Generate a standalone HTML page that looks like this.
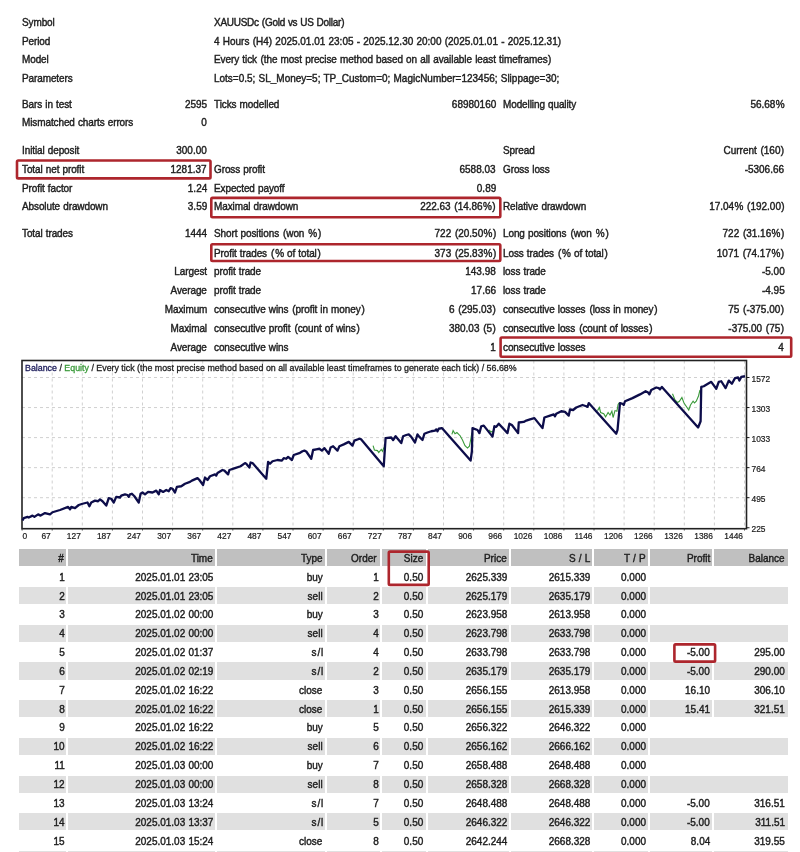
<!DOCTYPE html>
<html><head><meta charset="utf-8"><style>
html,body{margin:0;padding:0;background:#fff;width:800px;height:852px;overflow:hidden;position:relative}
.t{position:absolute;white-space:nowrap;transform:scaleX(0.96);word-spacing:0.5px;-webkit-text-stroke:0.42px currentColor;font-family:"Liberation Sans",sans-serif;font-size:10.4px;line-height:12px;color:#1e1e1e}
.ct{transform:none;font-size:8.85px;word-spacing:0;-webkit-text-stroke:0.3px currentColor}
.ax{transform:none;font-size:8.4px;color:#1a1a1a;-webkit-text-stroke:0.2px currentColor}
.r{position:absolute}
b{font-weight:normal}
#w{position:absolute;left:0;top:0;width:800px;height:852px;will-change:transform}
.b{position:absolute;border-radius:1px}
</style></head><body><div id="w">
<div class="t" style="top:16.80px;left:21.50px;transform-origin:0 0;letter-spacing:-0.1px;">Symbol</div>
<div class="t" style="top:16.80px;left:214.00px;transform-origin:0 0;letter-spacing:-0.28px;">XAUUSDc <b style="margin-left:0.2px">(</b>Gold vs US Dollar<b style="margin-left:0.2px">)</b></div>
<div class="t" style="top:35.80px;left:21.50px;transform-origin:0 0;letter-spacing:-0.1px;">Period</div>
<div class="t" style="top:35.80px;left:214.00px;transform-origin:0 0;letter-spacing:0.0px;">4 Hours <b style="margin-left:0.0px">(</b>H4<b style="margin-left:0.0px">)</b> 2025.01.01 23:05 - 2025.12.30 20:00 <b style="margin-left:0.0px">(</b>2025.01.01 - 2025.12.31<b style="margin-left:0.0px">)</b></div>
<div class="t" style="top:54.40px;left:21.50px;transform-origin:0 0;letter-spacing:-0.1px;">Model</div>
<div class="t" style="top:54.40px;left:214.00px;transform-origin:0 0;letter-spacing:-0.07px;">Every tick <b style="margin-left:0.3px">(</b>the most precise method based on all available least timeframes<b style="margin-left:0.3px">)</b></div>
<div class="t" style="top:73.20px;left:21.50px;transform-origin:0 0;letter-spacing:-0.1px;">Parameters</div>
<div class="t" style="top:73.20px;left:214.00px;transform-origin:0 0;letter-spacing:0.0px;">Lots=0.5; SL_Money=5; TP_Custom=0; MagicNumber=123456; Slippage=30;</div>
<div class="t" style="top:98.60px;left:21.50px;transform-origin:0 0;letter-spacing:-0.1px;">Bars in test</div>
<div class="t" style="top:98.60px;right:593.20px;text-align:right;transform-origin:100% 0;">2595</div>
<div class="t" style="top:98.60px;left:214.00px;transform-origin:0 0;letter-spacing:-0.1px;">Ticks modelled</div>
<div class="t" style="top:98.60px;right:304.20px;text-align:right;transform-origin:100% 0;">68980160</div>
<div class="t" style="top:98.60px;left:503.30px;transform-origin:0 0;letter-spacing:-0.1px;">Modelling quality</div>
<div class="t" style="top:98.60px;right:15.80px;text-align:right;transform-origin:100% 0;">56.68<b style="margin-left:0.45px">%</b></div>
<div class="t" style="top:117.30px;left:21.50px;transform-origin:0 0;letter-spacing:-0.1px;">Mismatched charts errors</div>
<div class="t" style="top:117.30px;right:593.20px;text-align:right;transform-origin:100% 0;">0</div>
<div class="t" style="top:145.10px;left:21.50px;transform-origin:0 0;letter-spacing:-0.1px;">Initial deposit</div>
<div class="t" style="top:145.10px;right:593.20px;text-align:right;transform-origin:100% 0;">300.00</div>
<div class="t" style="top:145.10px;left:503.30px;transform-origin:0 0;letter-spacing:-0.1px;">Spread</div>
<div class="t" style="top:145.10px;right:15.80px;text-align:right;transform-origin:100% 0;">Current <b style="margin-left:0.45px">(</b>160<b style="margin-left:0.45px">)</b></div>
<div class="t" style="top:163.70px;left:21.50px;transform-origin:0 0;letter-spacing:-0.1px;">Total net profit</div>
<div class="t" style="top:163.70px;right:593.20px;text-align:right;transform-origin:100% 0;">1281.37</div>
<div class="t" style="top:163.70px;left:214.00px;transform-origin:0 0;letter-spacing:-0.1px;">Gross profit</div>
<div class="t" style="top:163.70px;right:304.20px;text-align:right;transform-origin:100% 0;">6588.03</div>
<div class="t" style="top:163.70px;left:503.30px;transform-origin:0 0;letter-spacing:-0.1px;">Gross loss</div>
<div class="t" style="top:163.70px;right:15.80px;text-align:right;transform-origin:100% 0;">-5306.66</div>
<div class="t" style="top:182.50px;left:21.50px;transform-origin:0 0;letter-spacing:-0.1px;">Profit factor</div>
<div class="t" style="top:182.50px;right:593.20px;text-align:right;transform-origin:100% 0;">1.24</div>
<div class="t" style="top:182.50px;left:214.00px;transform-origin:0 0;letter-spacing:-0.1px;">Expected payoff</div>
<div class="t" style="top:182.50px;right:304.20px;text-align:right;transform-origin:100% 0;">0.89</div>
<div class="t" style="top:201.30px;left:21.50px;transform-origin:0 0;letter-spacing:-0.1px;">Absolute drawdown</div>
<div class="t" style="top:201.30px;right:593.20px;text-align:right;transform-origin:100% 0;">3.59</div>
<div class="t" style="top:201.30px;left:214.00px;transform-origin:0 0;letter-spacing:-0.1px;">Maximal drawdown</div>
<div class="t" style="top:201.30px;right:304.20px;text-align:right;transform-origin:100% 0;">222.63 <b style="margin-left:0.45px">(</b>14.86<b style="margin-left:0.45px">%</b><b style="margin-left:0.45px">)</b></div>
<div class="t" style="top:201.30px;left:503.30px;transform-origin:0 0;letter-spacing:-0.1px;">Relative drawdown</div>
<div class="t" style="top:201.30px;right:15.80px;text-align:right;transform-origin:100% 0;">17.04<b style="margin-left:0.45px">%</b> <b style="margin-left:0.45px">(</b>192.00<b style="margin-left:0.45px">)</b></div>
<div class="t" style="top:228.30px;left:21.50px;transform-origin:0 0;letter-spacing:-0.1px;">Total trades</div>
<div class="t" style="top:228.30px;right:593.20px;text-align:right;transform-origin:100% 0;">1444</div>
<div class="t" style="top:228.30px;left:214.00px;transform-origin:0 0;letter-spacing:-0.1px;">Short positions <b style="margin-left:0.9px">(</b>won <b style="margin-left:0.9px">%</b><b style="margin-left:0.9px">)</b></div>
<div class="t" style="top:228.30px;right:304.20px;text-align:right;transform-origin:100% 0;">722 <b style="margin-left:0.45px">(</b>20.50<b style="margin-left:0.45px">%</b><b style="margin-left:0.45px">)</b></div>
<div class="t" style="top:228.30px;left:503.30px;transform-origin:0 0;letter-spacing:-0.1px;">Long positions <b style="margin-left:0.9px">(</b>won <b style="margin-left:0.9px">%</b><b style="margin-left:0.9px">)</b></div>
<div class="t" style="top:228.30px;right:15.80px;text-align:right;transform-origin:100% 0;">722 <b style="margin-left:0.45px">(</b>31.16<b style="margin-left:0.45px">%</b><b style="margin-left:0.45px">)</b></div>
<div class="t" style="top:247.70px;left:214.00px;transform-origin:0 0;letter-spacing:-0.1px;">Profit trades <b style="margin-left:0.9px">(</b><b style="margin-left:0.9px">%</b> of total<b style="margin-left:0.9px">)</b></div>
<div class="t" style="top:247.70px;right:304.20px;text-align:right;transform-origin:100% 0;">373 <b style="margin-left:0.45px">(</b>25.83<b style="margin-left:0.45px">%</b><b style="margin-left:0.45px">)</b></div>
<div class="t" style="top:247.70px;left:503.30px;transform-origin:0 0;letter-spacing:-0.1px;">Loss trades <b style="margin-left:0.9px">(</b><b style="margin-left:0.9px">%</b> of total<b style="margin-left:0.9px">)</b></div>
<div class="t" style="top:247.70px;right:15.80px;text-align:right;transform-origin:100% 0;">1071 <b style="margin-left:0.45px">(</b>74.17<b style="margin-left:0.45px">%</b><b style="margin-left:0.45px">)</b></div>
<div class="t" style="top:266.30px;right:593.10px;text-align:right;transform-origin:100% 0;letter-spacing:-0.1px;">Largest</div>
<div class="t" style="top:266.30px;left:214.00px;transform-origin:0 0;letter-spacing:-0.1px;">profit trade</div>
<div class="t" style="top:266.30px;right:304.20px;text-align:right;transform-origin:100% 0;">143.98</div>
<div class="t" style="top:266.30px;left:503.30px;transform-origin:0 0;letter-spacing:-0.1px;">loss trade</div>
<div class="t" style="top:266.30px;right:15.80px;text-align:right;transform-origin:100% 0;">-5.00</div>
<div class="t" style="top:285.10px;right:593.10px;text-align:right;transform-origin:100% 0;letter-spacing:-0.1px;">Average</div>
<div class="t" style="top:285.10px;left:214.00px;transform-origin:0 0;letter-spacing:-0.1px;">profit trade</div>
<div class="t" style="top:285.10px;right:304.20px;text-align:right;transform-origin:100% 0;">17.66</div>
<div class="t" style="top:285.10px;left:503.30px;transform-origin:0 0;letter-spacing:-0.1px;">loss trade</div>
<div class="t" style="top:285.10px;right:15.80px;text-align:right;transform-origin:100% 0;">-4.95</div>
<div class="t" style="top:303.80px;right:593.10px;text-align:right;transform-origin:100% 0;letter-spacing:-0.1px;">Maximum</div>
<div class="t" style="top:303.80px;left:214.00px;transform-origin:0 0;letter-spacing:-0.1px;">consecutive wins <b style="margin-left:0.9px">(</b>profit in money<b style="margin-left:0.9px">)</b></div>
<div class="t" style="top:303.80px;right:304.20px;text-align:right;transform-origin:100% 0;">6 <b style="margin-left:0.45px">(</b>295.03<b style="margin-left:0.45px">)</b></div>
<div class="t" style="top:303.80px;left:503.30px;transform-origin:0 0;letter-spacing:-0.1px;">consecutive losses <b style="margin-left:0.9px">(</b>loss in money<b style="margin-left:0.9px">)</b></div>
<div class="t" style="top:303.80px;right:15.80px;text-align:right;transform-origin:100% 0;">75 <b style="margin-left:0.45px">(</b>-375.00<b style="margin-left:0.45px">)</b></div>
<div class="t" style="top:322.80px;right:593.10px;text-align:right;transform-origin:100% 0;letter-spacing:-0.1px;">Maximal</div>
<div class="t" style="top:322.80px;left:214.00px;transform-origin:0 0;letter-spacing:-0.1px;">consecutive profit <b style="margin-left:0.9px">(</b>count of wins<b style="margin-left:0.9px">)</b></div>
<div class="t" style="top:322.80px;right:304.20px;text-align:right;transform-origin:100% 0;">380.03 <b style="margin-left:0.45px">(</b>5<b style="margin-left:0.45px">)</b></div>
<div class="t" style="top:322.80px;left:503.30px;transform-origin:0 0;letter-spacing:-0.1px;">consecutive loss <b style="margin-left:0.9px">(</b>count of losses<b style="margin-left:0.9px">)</b></div>
<div class="t" style="top:322.80px;right:15.80px;text-align:right;transform-origin:100% 0;">-375.00 <b style="margin-left:0.45px">(</b>75<b style="margin-left:0.45px">)</b></div>
<div class="t" style="top:341.60px;right:593.10px;text-align:right;transform-origin:100% 0;letter-spacing:-0.1px;">Average</div>
<div class="t" style="top:341.60px;left:214.00px;transform-origin:0 0;letter-spacing:-0.1px;">consecutive wins</div>
<div class="t" style="top:341.60px;right:304.20px;text-align:right;transform-origin:100% 0;">1</div>
<div class="t" style="top:341.60px;left:503.30px;transform-origin:0 0;letter-spacing:-0.1px;">consecutive losses</div>
<div class="t" style="top:341.60px;right:15.80px;text-align:right;transform-origin:100% 0;">4</div>
<svg class="ch" width="800" height="200" viewBox="0 350 800 200" style="position:absolute;left:0;top:350px"><line x1="52.20" y1="360.5" x2="52.20" y2="528.7" stroke="#d0d0d0" stroke-width="1" stroke-dasharray="3,3"/><line x1="82.30" y1="360.5" x2="82.30" y2="528.7" stroke="#d0d0d0" stroke-width="1" stroke-dasharray="3,3"/><line x1="112.40" y1="360.5" x2="112.40" y2="528.7" stroke="#d0d0d0" stroke-width="1" stroke-dasharray="3,3"/><line x1="142.50" y1="360.5" x2="142.50" y2="528.7" stroke="#d0d0d0" stroke-width="1" stroke-dasharray="3,3"/><line x1="172.60" y1="360.5" x2="172.60" y2="528.7" stroke="#d0d0d0" stroke-width="1" stroke-dasharray="3,3"/><line x1="202.70" y1="360.5" x2="202.70" y2="528.7" stroke="#d0d0d0" stroke-width="1" stroke-dasharray="3,3"/><line x1="232.80" y1="360.5" x2="232.80" y2="528.7" stroke="#d0d0d0" stroke-width="1" stroke-dasharray="3,3"/><line x1="262.90" y1="360.5" x2="262.90" y2="528.7" stroke="#d0d0d0" stroke-width="1" stroke-dasharray="3,3"/><line x1="293.00" y1="360.5" x2="293.00" y2="528.7" stroke="#d0d0d0" stroke-width="1" stroke-dasharray="3,3"/><line x1="323.10" y1="360.5" x2="323.10" y2="528.7" stroke="#d0d0d0" stroke-width="1" stroke-dasharray="3,3"/><line x1="353.20" y1="360.5" x2="353.20" y2="528.7" stroke="#d0d0d0" stroke-width="1" stroke-dasharray="3,3"/><line x1="383.30" y1="360.5" x2="383.30" y2="528.7" stroke="#d0d0d0" stroke-width="1" stroke-dasharray="3,3"/><line x1="413.40" y1="360.5" x2="413.40" y2="528.7" stroke="#d0d0d0" stroke-width="1" stroke-dasharray="3,3"/><line x1="443.50" y1="360.5" x2="443.50" y2="528.7" stroke="#d0d0d0" stroke-width="1" stroke-dasharray="3,3"/><line x1="473.60" y1="360.5" x2="473.60" y2="528.7" stroke="#d0d0d0" stroke-width="1" stroke-dasharray="3,3"/><line x1="503.70" y1="360.5" x2="503.70" y2="528.7" stroke="#d0d0d0" stroke-width="1" stroke-dasharray="3,3"/><line x1="533.80" y1="360.5" x2="533.80" y2="528.7" stroke="#d0d0d0" stroke-width="1" stroke-dasharray="3,3"/><line x1="563.90" y1="360.5" x2="563.90" y2="528.7" stroke="#d0d0d0" stroke-width="1" stroke-dasharray="3,3"/><line x1="594.00" y1="360.5" x2="594.00" y2="528.7" stroke="#d0d0d0" stroke-width="1" stroke-dasharray="3,3"/><line x1="624.10" y1="360.5" x2="624.10" y2="528.7" stroke="#d0d0d0" stroke-width="1" stroke-dasharray="3,3"/><line x1="654.20" y1="360.5" x2="654.20" y2="528.7" stroke="#d0d0d0" stroke-width="1" stroke-dasharray="3,3"/><line x1="684.30" y1="360.5" x2="684.30" y2="528.7" stroke="#d0d0d0" stroke-width="1" stroke-dasharray="3,3"/><line x1="714.40" y1="360.5" x2="714.40" y2="528.7" stroke="#d0d0d0" stroke-width="1" stroke-dasharray="3,3"/><line x1="744.50" y1="360.5" x2="744.50" y2="528.7" stroke="#d0d0d0" stroke-width="1" stroke-dasharray="3,3"/><line x1="22.0" y1="377.50" x2="746.5" y2="377.50" stroke="#d0d0d0" stroke-width="1" stroke-dasharray="3,3"/><line x1="22.0" y1="407.55" x2="746.5" y2="407.55" stroke="#d0d0d0" stroke-width="1" stroke-dasharray="3,3"/><line x1="22.0" y1="437.60" x2="746.5" y2="437.60" stroke="#d0d0d0" stroke-width="1" stroke-dasharray="3,3"/><line x1="22.0" y1="467.65" x2="746.5" y2="467.65" stroke="#d0d0d0" stroke-width="1" stroke-dasharray="3,3"/><line x1="22.0" y1="497.70" x2="746.5" y2="497.70" stroke="#d0d0d0" stroke-width="1" stroke-dasharray="3,3"/><rect x="22.0" y="360.5" width="724.5" height="168.20000000000005" fill="none" stroke="#222" stroke-width="1.6"/><line x1="746.5" y1="377.50" x2="749.5" y2="377.50" stroke="#1a1a1a" stroke-width="1"/><line x1="746.5" y1="407.55" x2="749.5" y2="407.55" stroke="#1a1a1a" stroke-width="1"/><line x1="746.5" y1="437.60" x2="749.5" y2="437.60" stroke="#1a1a1a" stroke-width="1"/><line x1="746.5" y1="467.65" x2="749.5" y2="467.65" stroke="#1a1a1a" stroke-width="1"/><line x1="746.5" y1="497.70" x2="749.5" y2="497.70" stroke="#1a1a1a" stroke-width="1"/><line x1="746.5" y1="527.75" x2="749.5" y2="527.75" stroke="#1a1a1a" stroke-width="1"/><line x1="22.10" y1="528.7" x2="22.10" y2="530.5" stroke="#444" stroke-width="1"/><line x1="52.20" y1="528.7" x2="52.20" y2="530.5" stroke="#444" stroke-width="1"/><line x1="82.30" y1="528.7" x2="82.30" y2="530.5" stroke="#444" stroke-width="1"/><line x1="112.40" y1="528.7" x2="112.40" y2="530.5" stroke="#444" stroke-width="1"/><line x1="142.50" y1="528.7" x2="142.50" y2="530.5" stroke="#444" stroke-width="1"/><line x1="172.60" y1="528.7" x2="172.60" y2="530.5" stroke="#444" stroke-width="1"/><line x1="202.70" y1="528.7" x2="202.70" y2="530.5" stroke="#444" stroke-width="1"/><line x1="232.80" y1="528.7" x2="232.80" y2="530.5" stroke="#444" stroke-width="1"/><line x1="262.90" y1="528.7" x2="262.90" y2="530.5" stroke="#444" stroke-width="1"/><line x1="293.00" y1="528.7" x2="293.00" y2="530.5" stroke="#444" stroke-width="1"/><line x1="323.10" y1="528.7" x2="323.10" y2="530.5" stroke="#444" stroke-width="1"/><line x1="353.20" y1="528.7" x2="353.20" y2="530.5" stroke="#444" stroke-width="1"/><line x1="383.30" y1="528.7" x2="383.30" y2="530.5" stroke="#444" stroke-width="1"/><line x1="413.40" y1="528.7" x2="413.40" y2="530.5" stroke="#444" stroke-width="1"/><line x1="443.50" y1="528.7" x2="443.50" y2="530.5" stroke="#444" stroke-width="1"/><line x1="473.60" y1="528.7" x2="473.60" y2="530.5" stroke="#444" stroke-width="1"/><line x1="503.70" y1="528.7" x2="503.70" y2="530.5" stroke="#444" stroke-width="1"/><line x1="533.80" y1="528.7" x2="533.80" y2="530.5" stroke="#444" stroke-width="1"/><line x1="563.90" y1="528.7" x2="563.90" y2="530.5" stroke="#444" stroke-width="1"/><line x1="594.00" y1="528.7" x2="594.00" y2="530.5" stroke="#444" stroke-width="1"/><line x1="624.10" y1="528.7" x2="624.10" y2="530.5" stroke="#444" stroke-width="1"/><line x1="654.20" y1="528.7" x2="654.20" y2="530.5" stroke="#444" stroke-width="1"/><line x1="684.30" y1="528.7" x2="684.30" y2="530.5" stroke="#444" stroke-width="1"/><line x1="714.40" y1="528.7" x2="714.40" y2="530.5" stroke="#444" stroke-width="1"/><line x1="744.50" y1="528.7" x2="744.50" y2="530.5" stroke="#444" stroke-width="1"/><polyline points="373.1,445.6 374.4,450 377.5,450.6 378.75,452.5 381.25,449.4 382.5,451.25 383.75,448.1 385.6,445" fill="none" stroke="#3a9a3a" stroke-width="1.1"/><polyline points="451.9,434.4 453.1,430.6 455,433.75 456.9,432.5 458.75,434.4 460,435.6 462.5,440 465,445.6 467.5,448.1 469.4,446.25 470.6,440 471.9,432.5" fill="none" stroke="#3a9a3a" stroke-width="1.1"/><polyline points="489,430 491,432 493,431" fill="none" stroke="#3a9a3a" stroke-width="1.1"/><polyline points="597.5,410.6 599.4,407.5 600.6,412.5 603.75,413.75 605.6,416.9 608.1,412.5 610,415 611.9,411.25 613.1,417.5 615,410.6 616.9,411.25 618.1,404.4 619.4,402.5" fill="none" stroke="#3a9a3a" stroke-width="1.1"/><polyline points="672.5,393.75 675,400 677.5,402.5 679.4,401.25 681.9,397.5 684,403 688.75,410 690.5,405 693.1,401.25 694.5,403 696.25,401.25 698.5,396 700,390" fill="none" stroke="#3a9a3a" stroke-width="1.1"/><polyline points="22.5,520.5 23.75,518.1 27.5,516.9 28.75,517.5 32.5,515.6 34.4,516.9 38.1,514.4 40.6,515.6 45,513.1 50,514.4 52.5,512.25 60,510 68.1,506.9 70,509.4 71.25,506.9 75,508.1 78.75,505 82.5,503.75 87.5,502.5 89.4,506.25 91.25,502.5 95,500.6 98.1,501.25 100,499.4 102.5,501.25 106.25,505.6 108.75,498.1 111.25,498.75 113.75,502.5 116.25,496.9 120,497.5 121.25,495.6 125,494.4 127.5,495 128.75,496.9 130,494.4 131.9,493.75 134.4,496.25 138.75,502.5 140.6,493.75 142.5,492.5 145,494.4 148.1,491.9 152.5,492.5 156.25,490.6 158.75,494.4 160,490 163.1,491.9 166.25,490 168.75,491.25 170.6,488.1 172.5,488.75 175,492.5 176.9,486.9 181.25,486.25 185,483.75 190,481.9 191.9,480.6 197.5,478.1 199.4,480 203.1,485 205,477.5 207.5,480 210,476.25 215,474.4 216.25,475.6 217.5,473.1 222.5,470 224.4,470.6 228.1,474.4 229.4,470 235,468.1 240.6,466.25 245,463.1 246.25,463.75 249.4,467.5 250.6,462.5 252.5,463.1 266.25,478.75 268.1,461.9 270,463.75 272.5,461.25 277.5,460 281.9,460.6 283.75,458.1 286.25,458.75 288.1,456.9 291.9,460 293.75,455 300,452.8 302.5,451.25 304.4,450.6 306.25,451.5 311.25,458.75 313.1,450 316.25,449.4 319.4,448.75 321.9,450.6 324.4,448.1 328.75,453.75 330.6,447.5 333.1,446.25 337.5,450.6 339.4,446.25 343.75,444.4 348.75,441.9 352.5,445.6 354.4,440.6 359.4,438.75 361.25,439.4 383.75,466.25 385.6,438.1 391.25,437.5 393.1,440 395.6,436.25 401.25,443.1 403.1,436.25 406.25,435 408.75,434.4 411.25,436.9 415,442.5 417.5,434.4 419.4,436.9 422.5,440 424.4,433.75 427.5,432.5 431.25,431.25 435,430.6 436.25,429.4 437.5,431.25 438.75,428.75 441.9,428.1 470.6,460.6 471.9,451.25 472.5,428.1 477.5,430 479.4,433.1 481.25,426.25 483.75,425.6 492.5,436.6 494.4,426.25 496.25,426.9 498.75,423.75 507.5,433.1 509.4,423.75 511.9,425 518.1,433.1 518.75,422.5 523.75,421.9 526.25,420.6 530,419.4 534.4,418.1 542.5,428.1 544.4,417.5 550,415.6 553.75,414.4 555,416.25 556.25,413.75 561.25,411.25 565,411.9 568.75,415.6 570,409.4 573.1,410 576.25,407.5 582.5,405 586.25,406.25 587.5,406.9 588.75,403.1 616.25,433.75 617.5,430 620,403.1 622.5,403.75 623.75,405 625,401.25 632.5,398.1 640,394.4 645.6,391.25 648.1,392.5 649.4,394.4 651.25,390 656.25,387.5 658.75,388.1 660,389.4 661.9,386.9 698.1,427.5 700.6,421.25 701.25,386.9 703.75,386.25 710,382.5 711.25,381.9 716.25,388.75 718.75,381.9 721.25,381.25 725.6,388.1 728.75,380.6 731.9,383.75 735,378.1 738.1,377.5 739.4,380.6 741.25,376.9 745,376.25" fill="none" stroke="#0d0d4a" stroke-width="2.3" stroke-linejoin="round"/></svg>
<div class="t ct" style="top:361.75px;left:25px"><span style="color:#1c1c5a">Balance</span> / <span style="color:#3a9a3a">Equity</span> / Every tick (the most precise method based on all available least timeframes to generate each tick) / 56.68%</div>
<div class="t ax" style="top:372.60px;left:751.5px">1572</div>
<div class="t ax" style="top:402.65px;left:751.5px">1303</div>
<div class="t ax" style="top:432.70px;left:751.5px">1033</div>
<div class="t ax" style="top:462.75px;left:751.5px">764</div>
<div class="t ax" style="top:492.80px;left:751.5px">495</div>
<div class="t ax" style="top:522.85px;left:751.5px">225</div>
<div class="t ax" style="top:530.10px;left:22.5px">0</div>
<div class="t ax" style="top:530.10px;right:749.30px;text-align:right">67</div>
<div class="t ax" style="top:530.10px;right:719.20px;text-align:right">127</div>
<div class="t ax" style="top:530.10px;right:689.10px;text-align:right">187</div>
<div class="t ax" style="top:530.10px;right:659.00px;text-align:right">247</div>
<div class="t ax" style="top:530.10px;right:628.90px;text-align:right">307</div>
<div class="t ax" style="top:530.10px;right:598.80px;text-align:right">367</div>
<div class="t ax" style="top:530.10px;right:568.70px;text-align:right">427</div>
<div class="t ax" style="top:530.10px;right:538.60px;text-align:right">487</div>
<div class="t ax" style="top:530.10px;right:508.50px;text-align:right">547</div>
<div class="t ax" style="top:530.10px;right:478.40px;text-align:right">607</div>
<div class="t ax" style="top:530.10px;right:448.30px;text-align:right">667</div>
<div class="t ax" style="top:530.10px;right:418.20px;text-align:right">727</div>
<div class="t ax" style="top:530.10px;right:388.10px;text-align:right">787</div>
<div class="t ax" style="top:530.10px;right:358.00px;text-align:right">847</div>
<div class="t ax" style="top:530.10px;right:327.90px;text-align:right">906</div>
<div class="t ax" style="top:530.10px;right:297.80px;text-align:right">966</div>
<div class="t ax" style="top:530.10px;right:267.70px;text-align:right">1026</div>
<div class="t ax" style="top:530.10px;right:237.60px;text-align:right">1086</div>
<div class="t ax" style="top:530.10px;right:207.50px;text-align:right">1146</div>
<div class="t ax" style="top:530.10px;right:177.40px;text-align:right">1206</div>
<div class="t ax" style="top:530.10px;right:147.30px;text-align:right">1266</div>
<div class="t ax" style="top:530.10px;right:117.20px;text-align:right">1326</div>
<div class="t ax" style="top:530.10px;right:87.10px;text-align:right">1386</div>
<div class="t ax" style="top:530.10px;right:57.00px;text-align:right">1446</div>
<div class="r" style="left:19.00px;top:549.30px;width:47.40px;height:17.20px;background:#c0c0c0"></div>
<div class="t" style="top:552.75px;right:735.90px;text-align:right;transform-origin:100% 0;">#</div>
<div class="r" style="left:68.20px;top:549.30px;width:147.30px;height:17.20px;background:#c0c0c0"></div>
<div class="t" style="top:552.75px;right:586.80px;text-align:right;transform-origin:100% 0;">Time</div>
<div class="r" style="left:217.25px;top:549.30px;width:107.75px;height:17.20px;background:#c0c0c0"></div>
<div class="t" style="top:552.75px;right:477.30px;text-align:right;transform-origin:100% 0;">Type</div>
<div class="r" style="left:326.60px;top:549.30px;width:53.90px;height:17.20px;background:#c0c0c0"></div>
<div class="t" style="top:552.75px;right:423.60px;text-align:right;transform-origin:100% 0;">Order</div>
<div class="r" style="left:382.10px;top:549.30px;width:43.90px;height:17.20px;background:#c0c0c0"></div>
<div class="t" style="top:552.75px;right:376.30px;text-align:right;transform-origin:100% 0;">Size</div>
<div class="r" style="left:427.60px;top:549.30px;width:81.60px;height:17.20px;background:#c0c0c0"></div>
<div class="t" style="top:552.75px;right:293.10px;text-align:right;transform-origin:100% 0;">Price</div>
<div class="r" style="left:510.90px;top:549.30px;width:81.40px;height:17.20px;background:#c0c0c0"></div>
<div class="t" style="top:552.75px;right:209.20px;text-align:right;transform-origin:100% 0;">S / L</div>
<div class="r" style="left:594.10px;top:549.30px;width:53.90px;height:17.20px;background:#c0c0c0"></div>
<div class="t" style="top:552.75px;right:153.90px;text-align:right;transform-origin:100% 0;">T / P</div>
<div class="r" style="left:650.00px;top:549.30px;width:62.30px;height:17.20px;background:#c0c0c0"></div>
<div class="t" style="top:552.75px;right:90.00px;text-align:right;transform-origin:100% 0;">Profit</div>
<div class="r" style="left:714.20px;top:549.30px;width:73.80px;height:17.20px;background:#c0c0c0"></div>
<div class="t" style="top:552.75px;right:15.60px;text-align:right;transform-origin:100% 0;">Balance</div>
<div class="t" style="top:571.65px;right:735.40px;text-align:right;transform-origin:100% 0;">1</div>
<div class="t" style="top:571.65px;right:586.80px;text-align:right;transform-origin:100% 0;">2025.01.01 23:05</div>
<div class="t" style="top:571.65px;right:477.30px;text-align:right;transform-origin:100% 0;">buy</div>
<div class="t" style="top:571.65px;right:421.00px;text-align:right;transform-origin:100% 0;">1</div>
<div class="t" style="top:571.65px;right:376.30px;text-align:right;transform-origin:100% 0;">0.50</div>
<div class="t" style="top:571.65px;right:293.10px;text-align:right;transform-origin:100% 0;">2625.339</div>
<div class="t" style="top:571.65px;right:209.20px;text-align:right;transform-origin:100% 0;">2615.339</div>
<div class="t" style="top:571.65px;right:153.90px;text-align:right;transform-origin:100% 0;">0.000</div>
<div class="r" style="left:19.00px;top:587.00px;width:47.40px;height:17.20px;background:#e0e0e0"></div>
<div class="r" style="left:68.20px;top:587.00px;width:147.30px;height:17.20px;background:#e0e0e0"></div>
<div class="r" style="left:217.25px;top:587.00px;width:107.75px;height:17.20px;background:#e0e0e0"></div>
<div class="r" style="left:326.60px;top:587.00px;width:53.90px;height:17.20px;background:#e0e0e0"></div>
<div class="r" style="left:382.10px;top:587.00px;width:43.90px;height:17.20px;background:#e0e0e0"></div>
<div class="r" style="left:427.60px;top:587.00px;width:81.60px;height:17.20px;background:#e0e0e0"></div>
<div class="r" style="left:510.90px;top:587.00px;width:81.40px;height:17.20px;background:#e0e0e0"></div>
<div class="r" style="left:594.10px;top:587.00px;width:53.90px;height:17.20px;background:#e0e0e0"></div>
<div class="r" style="left:650.00px;top:587.00px;width:138.00px;height:17.20px;background:#e0e0e0"></div>
<div class="t" style="top:590.50px;right:735.40px;text-align:right;transform-origin:100% 0;">2</div>
<div class="t" style="top:590.50px;right:586.80px;text-align:right;transform-origin:100% 0;">2025.01.01 23:05</div>
<div class="t" style="top:590.50px;right:477.30px;text-align:right;transform-origin:100% 0;">sell</div>
<div class="t" style="top:590.50px;right:421.00px;text-align:right;transform-origin:100% 0;">2</div>
<div class="t" style="top:590.50px;right:376.30px;text-align:right;transform-origin:100% 0;">0.50</div>
<div class="t" style="top:590.50px;right:293.10px;text-align:right;transform-origin:100% 0;">2625.179</div>
<div class="t" style="top:590.50px;right:209.20px;text-align:right;transform-origin:100% 0;">2635.179</div>
<div class="t" style="top:590.50px;right:153.90px;text-align:right;transform-origin:100% 0;">0.000</div>
<div class="t" style="top:609.35px;right:735.40px;text-align:right;transform-origin:100% 0;">3</div>
<div class="t" style="top:609.35px;right:586.80px;text-align:right;transform-origin:100% 0;">2025.01.02 00:00</div>
<div class="t" style="top:609.35px;right:477.30px;text-align:right;transform-origin:100% 0;">buy</div>
<div class="t" style="top:609.35px;right:421.00px;text-align:right;transform-origin:100% 0;">3</div>
<div class="t" style="top:609.35px;right:376.30px;text-align:right;transform-origin:100% 0;">0.50</div>
<div class="t" style="top:609.35px;right:293.10px;text-align:right;transform-origin:100% 0;">2623.958</div>
<div class="t" style="top:609.35px;right:209.20px;text-align:right;transform-origin:100% 0;">2613.958</div>
<div class="t" style="top:609.35px;right:153.90px;text-align:right;transform-origin:100% 0;">0.000</div>
<div class="r" style="left:19.00px;top:624.70px;width:47.40px;height:17.20px;background:#e0e0e0"></div>
<div class="r" style="left:68.20px;top:624.70px;width:147.30px;height:17.20px;background:#e0e0e0"></div>
<div class="r" style="left:217.25px;top:624.70px;width:107.75px;height:17.20px;background:#e0e0e0"></div>
<div class="r" style="left:326.60px;top:624.70px;width:53.90px;height:17.20px;background:#e0e0e0"></div>
<div class="r" style="left:382.10px;top:624.70px;width:43.90px;height:17.20px;background:#e0e0e0"></div>
<div class="r" style="left:427.60px;top:624.70px;width:81.60px;height:17.20px;background:#e0e0e0"></div>
<div class="r" style="left:510.90px;top:624.70px;width:81.40px;height:17.20px;background:#e0e0e0"></div>
<div class="r" style="left:594.10px;top:624.70px;width:53.90px;height:17.20px;background:#e0e0e0"></div>
<div class="r" style="left:650.00px;top:624.70px;width:138.00px;height:17.20px;background:#e0e0e0"></div>
<div class="t" style="top:628.20px;right:735.40px;text-align:right;transform-origin:100% 0;">4</div>
<div class="t" style="top:628.20px;right:586.80px;text-align:right;transform-origin:100% 0;">2025.01.02 00:00</div>
<div class="t" style="top:628.20px;right:477.30px;text-align:right;transform-origin:100% 0;">sell</div>
<div class="t" style="top:628.20px;right:421.00px;text-align:right;transform-origin:100% 0;">4</div>
<div class="t" style="top:628.20px;right:376.30px;text-align:right;transform-origin:100% 0;">0.50</div>
<div class="t" style="top:628.20px;right:293.10px;text-align:right;transform-origin:100% 0;">2623.798</div>
<div class="t" style="top:628.20px;right:209.20px;text-align:right;transform-origin:100% 0;">2633.798</div>
<div class="t" style="top:628.20px;right:153.90px;text-align:right;transform-origin:100% 0;">0.000</div>
<div class="t" style="top:647.05px;right:735.40px;text-align:right;transform-origin:100% 0;">5</div>
<div class="t" style="top:647.05px;right:586.80px;text-align:right;transform-origin:100% 0;">2025.01.02 01:37</div>
<div class="t" style="top:647.05px;right:476.40px;text-align:right;transform-origin:100% 0;letter-spacing:0.9px;">s/l</div>
<div class="t" style="top:647.05px;right:421.00px;text-align:right;transform-origin:100% 0;">4</div>
<div class="t" style="top:647.05px;right:376.30px;text-align:right;transform-origin:100% 0;">0.50</div>
<div class="t" style="top:647.05px;right:293.10px;text-align:right;transform-origin:100% 0;">2633.798</div>
<div class="t" style="top:647.05px;right:209.20px;text-align:right;transform-origin:100% 0;">2633.798</div>
<div class="t" style="top:647.05px;right:153.90px;text-align:right;transform-origin:100% 0;">0.000</div>
<div class="t" style="top:647.05px;right:90.00px;text-align:right;transform-origin:100% 0;">-5.00</div>
<div class="t" style="top:647.05px;right:15.30px;text-align:right;transform-origin:100% 0;">295.00</div>
<div class="r" style="left:19.00px;top:662.40px;width:47.40px;height:17.20px;background:#e0e0e0"></div>
<div class="r" style="left:68.20px;top:662.40px;width:147.30px;height:17.20px;background:#e0e0e0"></div>
<div class="r" style="left:217.25px;top:662.40px;width:107.75px;height:17.20px;background:#e0e0e0"></div>
<div class="r" style="left:326.60px;top:662.40px;width:53.90px;height:17.20px;background:#e0e0e0"></div>
<div class="r" style="left:382.10px;top:662.40px;width:43.90px;height:17.20px;background:#e0e0e0"></div>
<div class="r" style="left:427.60px;top:662.40px;width:81.60px;height:17.20px;background:#e0e0e0"></div>
<div class="r" style="left:510.90px;top:662.40px;width:81.40px;height:17.20px;background:#e0e0e0"></div>
<div class="r" style="left:594.10px;top:662.40px;width:53.90px;height:17.20px;background:#e0e0e0"></div>
<div class="r" style="left:650.00px;top:662.40px;width:62.30px;height:17.20px;background:#e0e0e0"></div>
<div class="r" style="left:714.20px;top:662.40px;width:73.80px;height:17.20px;background:#e0e0e0"></div>
<div class="t" style="top:665.90px;right:735.40px;text-align:right;transform-origin:100% 0;">6</div>
<div class="t" style="top:665.90px;right:586.80px;text-align:right;transform-origin:100% 0;">2025.01.02 02:19</div>
<div class="t" style="top:665.90px;right:476.40px;text-align:right;transform-origin:100% 0;letter-spacing:0.9px;">s/l</div>
<div class="t" style="top:665.90px;right:421.00px;text-align:right;transform-origin:100% 0;">2</div>
<div class="t" style="top:665.90px;right:376.30px;text-align:right;transform-origin:100% 0;">0.50</div>
<div class="t" style="top:665.90px;right:293.10px;text-align:right;transform-origin:100% 0;">2635.179</div>
<div class="t" style="top:665.90px;right:209.20px;text-align:right;transform-origin:100% 0;">2635.179</div>
<div class="t" style="top:665.90px;right:153.90px;text-align:right;transform-origin:100% 0;">0.000</div>
<div class="t" style="top:665.90px;right:90.00px;text-align:right;transform-origin:100% 0;">-5.00</div>
<div class="t" style="top:665.90px;right:15.30px;text-align:right;transform-origin:100% 0;">290.00</div>
<div class="t" style="top:684.75px;right:735.40px;text-align:right;transform-origin:100% 0;">7</div>
<div class="t" style="top:684.75px;right:586.80px;text-align:right;transform-origin:100% 0;">2025.01.02 16:22</div>
<div class="t" style="top:684.75px;right:477.30px;text-align:right;transform-origin:100% 0;">close</div>
<div class="t" style="top:684.75px;right:421.00px;text-align:right;transform-origin:100% 0;">3</div>
<div class="t" style="top:684.75px;right:376.30px;text-align:right;transform-origin:100% 0;">0.50</div>
<div class="t" style="top:684.75px;right:293.10px;text-align:right;transform-origin:100% 0;">2656.155</div>
<div class="t" style="top:684.75px;right:209.20px;text-align:right;transform-origin:100% 0;">2613.958</div>
<div class="t" style="top:684.75px;right:153.90px;text-align:right;transform-origin:100% 0;">0.000</div>
<div class="t" style="top:684.75px;right:90.00px;text-align:right;transform-origin:100% 0;">16.10</div>
<div class="t" style="top:684.75px;right:15.30px;text-align:right;transform-origin:100% 0;">306.10</div>
<div class="r" style="left:19.00px;top:700.10px;width:47.40px;height:17.20px;background:#e0e0e0"></div>
<div class="r" style="left:68.20px;top:700.10px;width:147.30px;height:17.20px;background:#e0e0e0"></div>
<div class="r" style="left:217.25px;top:700.10px;width:107.75px;height:17.20px;background:#e0e0e0"></div>
<div class="r" style="left:326.60px;top:700.10px;width:53.90px;height:17.20px;background:#e0e0e0"></div>
<div class="r" style="left:382.10px;top:700.10px;width:43.90px;height:17.20px;background:#e0e0e0"></div>
<div class="r" style="left:427.60px;top:700.10px;width:81.60px;height:17.20px;background:#e0e0e0"></div>
<div class="r" style="left:510.90px;top:700.10px;width:81.40px;height:17.20px;background:#e0e0e0"></div>
<div class="r" style="left:594.10px;top:700.10px;width:53.90px;height:17.20px;background:#e0e0e0"></div>
<div class="r" style="left:650.00px;top:700.10px;width:62.30px;height:17.20px;background:#e0e0e0"></div>
<div class="r" style="left:714.20px;top:700.10px;width:73.80px;height:17.20px;background:#e0e0e0"></div>
<div class="t" style="top:703.60px;right:735.40px;text-align:right;transform-origin:100% 0;">8</div>
<div class="t" style="top:703.60px;right:586.80px;text-align:right;transform-origin:100% 0;">2025.01.02 16:22</div>
<div class="t" style="top:703.60px;right:477.30px;text-align:right;transform-origin:100% 0;">close</div>
<div class="t" style="top:703.60px;right:421.00px;text-align:right;transform-origin:100% 0;">1</div>
<div class="t" style="top:703.60px;right:376.30px;text-align:right;transform-origin:100% 0;">0.50</div>
<div class="t" style="top:703.60px;right:293.10px;text-align:right;transform-origin:100% 0;">2656.155</div>
<div class="t" style="top:703.60px;right:209.20px;text-align:right;transform-origin:100% 0;">2615.339</div>
<div class="t" style="top:703.60px;right:153.90px;text-align:right;transform-origin:100% 0;">0.000</div>
<div class="t" style="top:703.60px;right:90.00px;text-align:right;transform-origin:100% 0;">15.41</div>
<div class="t" style="top:703.60px;right:15.30px;text-align:right;transform-origin:100% 0;">321.51</div>
<div class="t" style="top:722.45px;right:735.40px;text-align:right;transform-origin:100% 0;">9</div>
<div class="t" style="top:722.45px;right:586.80px;text-align:right;transform-origin:100% 0;">2025.01.02 16:22</div>
<div class="t" style="top:722.45px;right:477.30px;text-align:right;transform-origin:100% 0;">buy</div>
<div class="t" style="top:722.45px;right:421.00px;text-align:right;transform-origin:100% 0;">5</div>
<div class="t" style="top:722.45px;right:376.30px;text-align:right;transform-origin:100% 0;">0.50</div>
<div class="t" style="top:722.45px;right:293.10px;text-align:right;transform-origin:100% 0;">2656.322</div>
<div class="t" style="top:722.45px;right:209.20px;text-align:right;transform-origin:100% 0;">2646.322</div>
<div class="t" style="top:722.45px;right:153.90px;text-align:right;transform-origin:100% 0;">0.000</div>
<div class="r" style="left:19.00px;top:737.80px;width:47.40px;height:17.20px;background:#e0e0e0"></div>
<div class="r" style="left:68.20px;top:737.80px;width:147.30px;height:17.20px;background:#e0e0e0"></div>
<div class="r" style="left:217.25px;top:737.80px;width:107.75px;height:17.20px;background:#e0e0e0"></div>
<div class="r" style="left:326.60px;top:737.80px;width:53.90px;height:17.20px;background:#e0e0e0"></div>
<div class="r" style="left:382.10px;top:737.80px;width:43.90px;height:17.20px;background:#e0e0e0"></div>
<div class="r" style="left:427.60px;top:737.80px;width:81.60px;height:17.20px;background:#e0e0e0"></div>
<div class="r" style="left:510.90px;top:737.80px;width:81.40px;height:17.20px;background:#e0e0e0"></div>
<div class="r" style="left:594.10px;top:737.80px;width:53.90px;height:17.20px;background:#e0e0e0"></div>
<div class="r" style="left:650.00px;top:737.80px;width:138.00px;height:17.20px;background:#e0e0e0"></div>
<div class="t" style="top:741.30px;right:735.40px;text-align:right;transform-origin:100% 0;">10</div>
<div class="t" style="top:741.30px;right:586.80px;text-align:right;transform-origin:100% 0;">2025.01.02 16:22</div>
<div class="t" style="top:741.30px;right:477.30px;text-align:right;transform-origin:100% 0;">sell</div>
<div class="t" style="top:741.30px;right:421.00px;text-align:right;transform-origin:100% 0;">6</div>
<div class="t" style="top:741.30px;right:376.30px;text-align:right;transform-origin:100% 0;">0.50</div>
<div class="t" style="top:741.30px;right:293.10px;text-align:right;transform-origin:100% 0;">2656.162</div>
<div class="t" style="top:741.30px;right:209.20px;text-align:right;transform-origin:100% 0;">2666.162</div>
<div class="t" style="top:741.30px;right:153.90px;text-align:right;transform-origin:100% 0;">0.000</div>
<div class="t" style="top:760.15px;right:735.40px;text-align:right;transform-origin:100% 0;">11</div>
<div class="t" style="top:760.15px;right:586.80px;text-align:right;transform-origin:100% 0;">2025.01.03 00:00</div>
<div class="t" style="top:760.15px;right:477.30px;text-align:right;transform-origin:100% 0;">buy</div>
<div class="t" style="top:760.15px;right:421.00px;text-align:right;transform-origin:100% 0;">7</div>
<div class="t" style="top:760.15px;right:376.30px;text-align:right;transform-origin:100% 0;">0.50</div>
<div class="t" style="top:760.15px;right:293.10px;text-align:right;transform-origin:100% 0;">2658.488</div>
<div class="t" style="top:760.15px;right:209.20px;text-align:right;transform-origin:100% 0;">2648.488</div>
<div class="t" style="top:760.15px;right:153.90px;text-align:right;transform-origin:100% 0;">0.000</div>
<div class="r" style="left:19.00px;top:775.50px;width:47.40px;height:17.20px;background:#e0e0e0"></div>
<div class="r" style="left:68.20px;top:775.50px;width:147.30px;height:17.20px;background:#e0e0e0"></div>
<div class="r" style="left:217.25px;top:775.50px;width:107.75px;height:17.20px;background:#e0e0e0"></div>
<div class="r" style="left:326.60px;top:775.50px;width:53.90px;height:17.20px;background:#e0e0e0"></div>
<div class="r" style="left:382.10px;top:775.50px;width:43.90px;height:17.20px;background:#e0e0e0"></div>
<div class="r" style="left:427.60px;top:775.50px;width:81.60px;height:17.20px;background:#e0e0e0"></div>
<div class="r" style="left:510.90px;top:775.50px;width:81.40px;height:17.20px;background:#e0e0e0"></div>
<div class="r" style="left:594.10px;top:775.50px;width:53.90px;height:17.20px;background:#e0e0e0"></div>
<div class="r" style="left:650.00px;top:775.50px;width:138.00px;height:17.20px;background:#e0e0e0"></div>
<div class="t" style="top:779.00px;right:735.40px;text-align:right;transform-origin:100% 0;">12</div>
<div class="t" style="top:779.00px;right:586.80px;text-align:right;transform-origin:100% 0;">2025.01.03 00:00</div>
<div class="t" style="top:779.00px;right:477.30px;text-align:right;transform-origin:100% 0;">sell</div>
<div class="t" style="top:779.00px;right:421.00px;text-align:right;transform-origin:100% 0;">8</div>
<div class="t" style="top:779.00px;right:376.30px;text-align:right;transform-origin:100% 0;">0.50</div>
<div class="t" style="top:779.00px;right:293.10px;text-align:right;transform-origin:100% 0;">2658.328</div>
<div class="t" style="top:779.00px;right:209.20px;text-align:right;transform-origin:100% 0;">2668.328</div>
<div class="t" style="top:779.00px;right:153.90px;text-align:right;transform-origin:100% 0;">0.000</div>
<div class="t" style="top:797.85px;right:735.40px;text-align:right;transform-origin:100% 0;">13</div>
<div class="t" style="top:797.85px;right:586.80px;text-align:right;transform-origin:100% 0;">2025.01.03 13:24</div>
<div class="t" style="top:797.85px;right:476.40px;text-align:right;transform-origin:100% 0;letter-spacing:0.9px;">s/l</div>
<div class="t" style="top:797.85px;right:421.00px;text-align:right;transform-origin:100% 0;">7</div>
<div class="t" style="top:797.85px;right:376.30px;text-align:right;transform-origin:100% 0;">0.50</div>
<div class="t" style="top:797.85px;right:293.10px;text-align:right;transform-origin:100% 0;">2648.488</div>
<div class="t" style="top:797.85px;right:209.20px;text-align:right;transform-origin:100% 0;">2648.488</div>
<div class="t" style="top:797.85px;right:153.90px;text-align:right;transform-origin:100% 0;">0.000</div>
<div class="t" style="top:797.85px;right:90.00px;text-align:right;transform-origin:100% 0;">-5.00</div>
<div class="t" style="top:797.85px;right:15.30px;text-align:right;transform-origin:100% 0;">316.51</div>
<div class="r" style="left:19.00px;top:813.20px;width:47.40px;height:17.20px;background:#e0e0e0"></div>
<div class="r" style="left:68.20px;top:813.20px;width:147.30px;height:17.20px;background:#e0e0e0"></div>
<div class="r" style="left:217.25px;top:813.20px;width:107.75px;height:17.20px;background:#e0e0e0"></div>
<div class="r" style="left:326.60px;top:813.20px;width:53.90px;height:17.20px;background:#e0e0e0"></div>
<div class="r" style="left:382.10px;top:813.20px;width:43.90px;height:17.20px;background:#e0e0e0"></div>
<div class="r" style="left:427.60px;top:813.20px;width:81.60px;height:17.20px;background:#e0e0e0"></div>
<div class="r" style="left:510.90px;top:813.20px;width:81.40px;height:17.20px;background:#e0e0e0"></div>
<div class="r" style="left:594.10px;top:813.20px;width:53.90px;height:17.20px;background:#e0e0e0"></div>
<div class="r" style="left:650.00px;top:813.20px;width:62.30px;height:17.20px;background:#e0e0e0"></div>
<div class="r" style="left:714.20px;top:813.20px;width:73.80px;height:17.20px;background:#e0e0e0"></div>
<div class="t" style="top:816.70px;right:735.40px;text-align:right;transform-origin:100% 0;">14</div>
<div class="t" style="top:816.70px;right:586.80px;text-align:right;transform-origin:100% 0;">2025.01.03 13:37</div>
<div class="t" style="top:816.70px;right:476.40px;text-align:right;transform-origin:100% 0;letter-spacing:0.9px;">s/l</div>
<div class="t" style="top:816.70px;right:421.00px;text-align:right;transform-origin:100% 0;">5</div>
<div class="t" style="top:816.70px;right:376.30px;text-align:right;transform-origin:100% 0;">0.50</div>
<div class="t" style="top:816.70px;right:293.10px;text-align:right;transform-origin:100% 0;">2646.322</div>
<div class="t" style="top:816.70px;right:209.20px;text-align:right;transform-origin:100% 0;">2646.322</div>
<div class="t" style="top:816.70px;right:153.90px;text-align:right;transform-origin:100% 0;">0.000</div>
<div class="t" style="top:816.70px;right:90.00px;text-align:right;transform-origin:100% 0;">-5.00</div>
<div class="t" style="top:816.70px;right:15.30px;text-align:right;transform-origin:100% 0;">311.51</div>
<div class="t" style="top:835.55px;right:735.40px;text-align:right;transform-origin:100% 0;">15</div>
<div class="t" style="top:835.55px;right:586.80px;text-align:right;transform-origin:100% 0;">2025.01.03 15:24</div>
<div class="t" style="top:835.55px;right:477.30px;text-align:right;transform-origin:100% 0;">close</div>
<div class="t" style="top:835.55px;right:421.00px;text-align:right;transform-origin:100% 0;">8</div>
<div class="t" style="top:835.55px;right:376.30px;text-align:right;transform-origin:100% 0;">0.50</div>
<div class="t" style="top:835.55px;right:293.10px;text-align:right;transform-origin:100% 0;">2642.244</div>
<div class="t" style="top:835.55px;right:209.20px;text-align:right;transform-origin:100% 0;">2668.328</div>
<div class="t" style="top:835.55px;right:153.90px;text-align:right;transform-origin:100% 0;">0.000</div>
<div class="t" style="top:835.55px;right:90.00px;text-align:right;transform-origin:100% 0;">8.04</div>
<div class="t" style="top:835.55px;right:15.30px;text-align:right;transform-origin:100% 0;">319.55</div>
<div class="r" style="left:19.00px;top:850.90px;width:47.40px;height:17.20px;background:#e0e0e0"></div>
<div class="r" style="left:68.20px;top:850.90px;width:147.30px;height:17.20px;background:#e0e0e0"></div>
<div class="r" style="left:217.25px;top:850.90px;width:107.75px;height:17.20px;background:#e0e0e0"></div>
<div class="r" style="left:326.60px;top:850.90px;width:53.90px;height:17.20px;background:#e0e0e0"></div>
<div class="r" style="left:382.10px;top:850.90px;width:43.90px;height:17.20px;background:#e0e0e0"></div>
<div class="r" style="left:427.60px;top:850.90px;width:81.60px;height:17.20px;background:#e0e0e0"></div>
<div class="r" style="left:510.90px;top:850.90px;width:81.40px;height:17.20px;background:#e0e0e0"></div>
<div class="r" style="left:594.10px;top:850.90px;width:53.90px;height:17.20px;background:#e0e0e0"></div>
<div class="r" style="left:650.00px;top:850.90px;width:62.30px;height:17.20px;background:#e0e0e0"></div>
<div class="r" style="left:714.20px;top:850.90px;width:73.80px;height:17.20px;background:#e0e0e0"></div>
<svg width="800" height="852" style="position:absolute;left:0;top:0"><rect x="17.00" y="160.50" width="193.50" height="17.90" rx="1.2" fill="none" stroke="#ad262d" stroke-width="2.6"/><rect x="211.30" y="197.90" width="289.00" height="19.40" rx="1.2" fill="none" stroke="#ad262d" stroke-width="2.6"/><rect x="211.30" y="244.30" width="289.00" height="16.70" rx="1.2" fill="none" stroke="#ad262d" stroke-width="2.6"/><rect x="500.60" y="337.50" width="290.60" height="19.20" rx="1.2" fill="none" stroke="#ad262d" stroke-width="2.6"/><rect x="388.80" y="551.60" width="39.90" height="33.30" rx="1.2" fill="none" stroke="#ad262d" stroke-width="2.6"/><rect x="674.40" y="644.40" width="40.70" height="17.20" rx="1.2" fill="none" stroke="#ad262d" stroke-width="2.6"/></svg>
</div></body></html>
